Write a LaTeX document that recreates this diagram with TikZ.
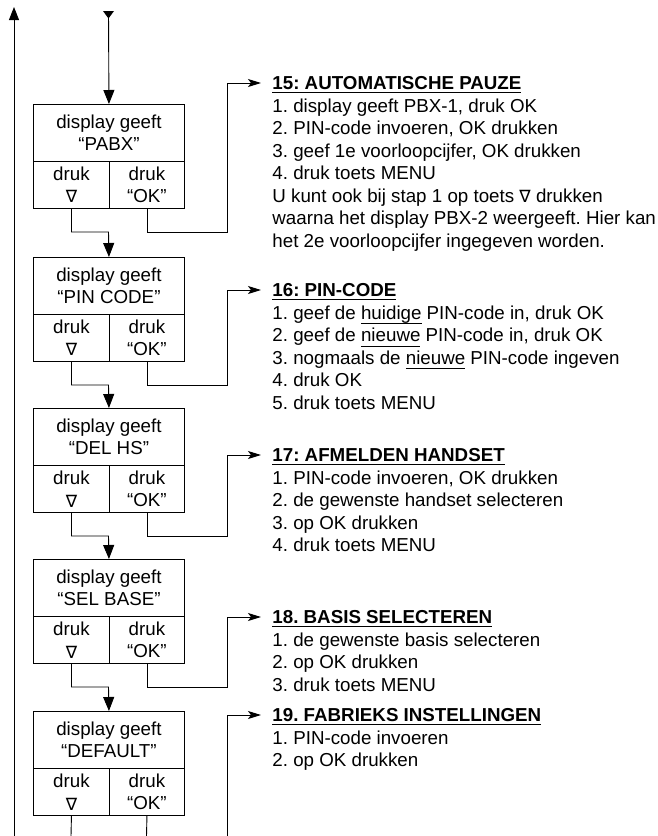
\documentclass[tikz,border=0pt]{standalone}
\usepackage{fontspec}
\setmainfont{Liberation Sans}
\newfontfamily\symf{DejaVu Sans}
\usetikzlibrary{arrows.meta}
\newcommand\fsz{\fontsize{18.75}{22.5}\selectfont\frenchspacing}
\newcommand\nab{{\symf\fontsize{17}{20}\selectfont ∇}}
\newcommand\hul[1]{\leavevmode\setbox0\hbox{#1}\rlap{\rule[-3.4pt]{\wd0}{1.4pt}}\box0\relax}
\newcommand\wul[1]{\leavevmode\setbox0\hbox{#1}\rlap{\rule[-5pt]{\wd0}{0.9pt}}\box0\relax}
\begin{document}
\begin{tikzpicture}[x=1pt,y=-1pt,line width=0.9pt,
  box/.style={draw, minimum width=151pt, minimum height=57pt, inner sep=0pt, align=center, font=\fsz, anchor=north west},
  cell/.style={draw, minimum height=47pt, inner sep=0pt, align=center, font=\fsz, anchor=north west},
  sect/.style={anchor=north west, inner sep=0pt, align=left, font=\fsz},
  vtip/.style={-{Triangle[length=14pt,width=11pt]}},
  htip/.style={-{Stealth[length=13pt,width=8pt,inset=3pt]}}]
\useasboundingbox (0,0) rectangle (658,836);

% boxes
\node[box] (b1) at (33,104) {display geeft\\“PABX”};
\node[cell, minimum width=76pt] (b1l) at (33,161) {druk\\\nab};
\node[cell, minimum width=75pt] (b1r) at (109,161) {druk\\“OK”};

\node[box] (b2) at (33,257) {display geeft\\“PIN CODE”};
\node[cell, minimum width=76pt] (b2l) at (33,314) {druk\\\nab};
\node[cell, minimum width=75pt] (b2r) at (109,314) {druk\\“OK”};

\node[box] (b3) at (33,408) {display geeft\\“DEL HS”};
\node[cell, minimum width=76pt] (b3l) at (33,465) {druk\\\nab};
\node[cell, minimum width=75pt] (b3r) at (109,465) {druk\\“OK”};

\node[box] (b4) at (33,559) {display geeft\\“SEL BASE”};
\node[cell, minimum width=76pt] (b4l) at (33,616) {druk\\\nab};
\node[cell, minimum width=75pt] (b4r) at (109,616) {druk\\“OK”};

\node[box] (b5) at (33,711) {display geeft\\“DEFAULT”};
\node[cell, minimum width=76pt] (b5l) at (33,768) {druk\\\nab};
\node[cell, minimum width=75pt] (b5r) at (109,768) {druk\\“OK”};

% section texts
\coordinate (t15) at (261,83);
\coordinate (t16) at (261,290);
\coordinate (t17) at (261,455);
\coordinate (t18) at (261,617);
\coordinate (t19) at (261,715);

\node[sect] (s15) at (272,76.3) {\hul{\textbf{15: AUTOMATISCHE PAUZE}}\\
1. display geeft PBX-1, druk OK\\
2. PIN-code invoeren, OK drukken\\
3. geef 1e voorloopcijfer, OK drukken\\
4. druk toets MENU\\
U kunt ook bij stap 1 op toets \nab{} drukken\\
waarna het display PBX-2 weergeeft. Hier kan\\
het 2e voorloopcijfer ingegeven worden.};

\node[sect] (s16) at (272,283.3) {\hul{\textbf{16: PIN-CODE}}\\
1. geef de \wul{huidige} PIN-code in, druk OK\\
2. geef de \wul{nieuwe} PIN-code in, druk OK\\
3. nogmaals de \wul{nieuwe} PIN-code ingeven\\
4. druk OK\\
5. druk toets MENU};

\node[sect] (s17) at (272,448.3) {\hul{\textbf{17: AFMELDEN HANDSET}}\\
1. PIN-code invoeren, OK drukken\\
2. de gewenste handset selecteren\\
3. op OK drukken\\
4. druk toets MENU};

\node[sect] (s18) at (272,610.3) {\hul{\textbf{18. BASIS SELECTEREN}}\\
1. de gewenste basis selecteren\\
2. op OK drukken\\
3. druk toets MENU};

\node[sect] (s19) at (272,708.3) {\hul{\textbf{19. FABRIEKS INSTELLINGEN}}\\
1. PIN-code invoeren\\
2. op OK drukken};

% entry and return
\coordinate (in) at (108.5,11);
\fill (in) ++(-5.5,0) -- ++(11,0) -- ++(-5.5,7.5) -- cycle;
\draw[vtip] (in) -- (b1.north);
\coordinate (L0) at (14,836);
\coordinate (L1) at (14,7);
\draw[-{Triangle[length=13pt,width=10pt]}] (L0) -- (L1);

% down connectors
\draw[vtip] (b1l.south) |- (108.5,232) -- (b2.north);
\draw[vtip] (b2l.south) |- (108.5,385) -- (b3.north);
\draw[vtip] (b3l.south) |- (108.5,536) -- (b4.north);
\draw[vtip] (b4l.south) |- (108.5,687) -- (b5.north);

% OK connectors
\draw[htip] (b1r.south) |- (227,232) |- (t15);
\draw[htip] (b2r.south) |- (227,385) |- (t16);
\draw[htip] (b3r.south) |- (227,536) |- (t17);
\draw[htip] (b4r.south) |- (227,687) |- (t18);
\coordinate (e19) at (227,836);
\draw[htip] (e19) |- (t19);

% bottom exits
\coordinate (e5l) at (71,836);
\coordinate (e5r) at (146.5,836);
\draw (b5l.south) -- (e5l);
\draw (b5r.south) -- (e5r);
\end{tikzpicture}
\end{document}
